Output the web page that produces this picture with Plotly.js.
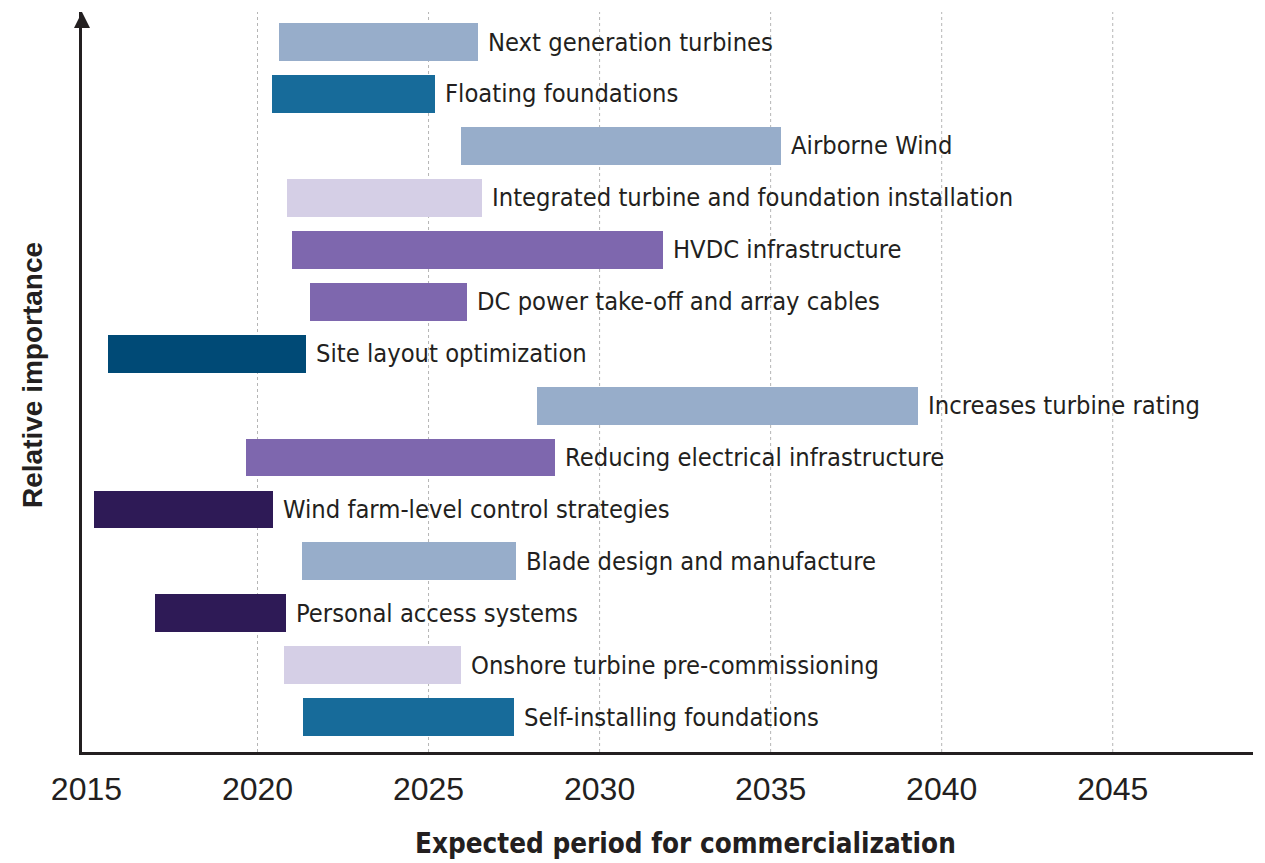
<!DOCTYPE html>
<html>
<head>
<meta charset="utf-8">
<script src="https://cdn.plot.ly/plotly-3.0.1.min.js"></script>
<style>html,body{margin:0;padding:0;background:#fff;}#chart{width:1265px;height:863px;}</style>
</head>
<body>
<div id="chart"></div>
<script>
const technologies = [
  "Next generation turbines",
  "Floating foundations",
  "Airborne Wind",
  "Integrated turbine and foundation installation",
  "HVDC infrastructure",
  "DC power take-off and array cables",
  "Site layout optimization",
  "Increases turbine rating",
  "Reducing electrical infrastructure",
  "Wind farm-level control strategies",
  "Blade design and manufacture",
  "Personal access systems",
  "Onshore turbine pre-commissioning",
  "Self-installing foundations"
];
const startYear = [2020.62, 2020.42, 2025.94, 2020.86, 2021.00, 2021.53, 2015.62, 2028.17, 2019.66, 2015.21, 2021.30, 2017.00, 2020.77, 2021.33];
const endYear   = [2026.44, 2025.18, 2035.30, 2026.56, 2031.85, 2026.12, 2021.41, 2039.31, 2028.70, 2020.45, 2027.56, 2020.83, 2025.94, 2027.50];
const barColors = ["#97adca", "#176b9a", "#97adca", "#d5cfe6", "#7e67ae", "#7e67ae", "#004a76", "#97adca", "#7e67ae", "#2e1a56", "#97adca", "#2e1a56", "#d5cfe6", "#176b9a"];
const tickYears = [2015, 2020, 2025, 2030, 2035, 2040, 2045];

const condensed = "DejaVu Sans Condensed, Liberation Sans, sans-serif";
const textColor = "#231f20";

const trace = {
  type: "bar",
  orientation: "h",
  y: technologies,
  base: startYear,
  x: endYear.map((e, i) => e - startYear[i]),
  width: 0.73,
  marker: {color: barColors, line: {width: 0}},
  hoverinfo: "skip"
};

const labelAnnotations = technologies.map((t, i) => ({
  x: endYear[i], y: t, xref: "x", yref: "y",
  text: t, showarrow: false, xanchor: "left", yanchor: "middle", xshift: 8,
  font: {family: condensed, size: 25.3, color: textColor}
}));

const yTitle = {
  xref: "paper", yref: "paper", x: 0, y: 0.5, xshift: -50, yshift: 7,
  text: "Relative importance", textangle: -90, showarrow: false,
  xanchor: "center", yanchor: "middle",
  font: {family: "Liberation Sans, Arial, sans-serif", size: 28, color: textColor, weight: "bold"}
};

const xTitle = {
  xref: "paper", yref: "paper", x: 0.515, y: 0, yshift: -91,
  text: "Expected period for commercialization", showarrow: false,
  xanchor: "center", yanchor: "middle",
  font: {family: condensed, size: 27.6, color: textColor, weight: "bold"}
};

const gridShapes = tickYears.slice(1).map(v => ({
  type: "line", xref: "x", yref: "paper", x0: v, x1: v, y0: 0, y1: 1,
  line: {color: "#b5b5b5", width: 1, dash: "dot"}, layer: "below"
}));

const arrowShape = {
  type: "path", xref: "paper", yref: "paper",
  xsizemode: "pixel", ysizemode: "pixel", xanchor: 0, yanchor: 1,
  path: "M -8,-16 L 8,-16 L 0,0 Z",
  fillcolor: "#231f20", line: {width: 0}
};

const layout = {
  width: 1265, height: 863,
  margin: {l: 82, r: 12, t: 12, b: 111},
  paper_bgcolor: "#fff", plot_bgcolor: "#fff",
  showlegend: false,
  bargap: 0,
  xaxis: {
    range: [2014.87, 2049.1],
    tickvals: tickYears,
    ticktext: tickYears.map(String),
    showgrid: false, zeroline: false,
    showline: true, linecolor: "#231f20", linewidth: 3,
    ticks: "", ticklabelstandoff: 7,
    tickfont: {family: "Liberation Sans, Arial, sans-serif", size: 32, color: textColor}
  },
  yaxis: {
    type: "category",
    categoryorder: "array", categoryarray: technologies,
    range: [13.67, -0.578],
    showticklabels: false, showgrid: false, zeroline: false,
    showline: true, linecolor: "#231f20", linewidth: 3, ticks: ""
  },
  annotations: labelAnnotations.concat([yTitle, xTitle]),
  shapes: gridShapes.concat([arrowShape])
};

Plotly.newPlot("chart", [trace], layout, {staticPlot: true, displayModeBar: false});
</script>
</body>
</html>
